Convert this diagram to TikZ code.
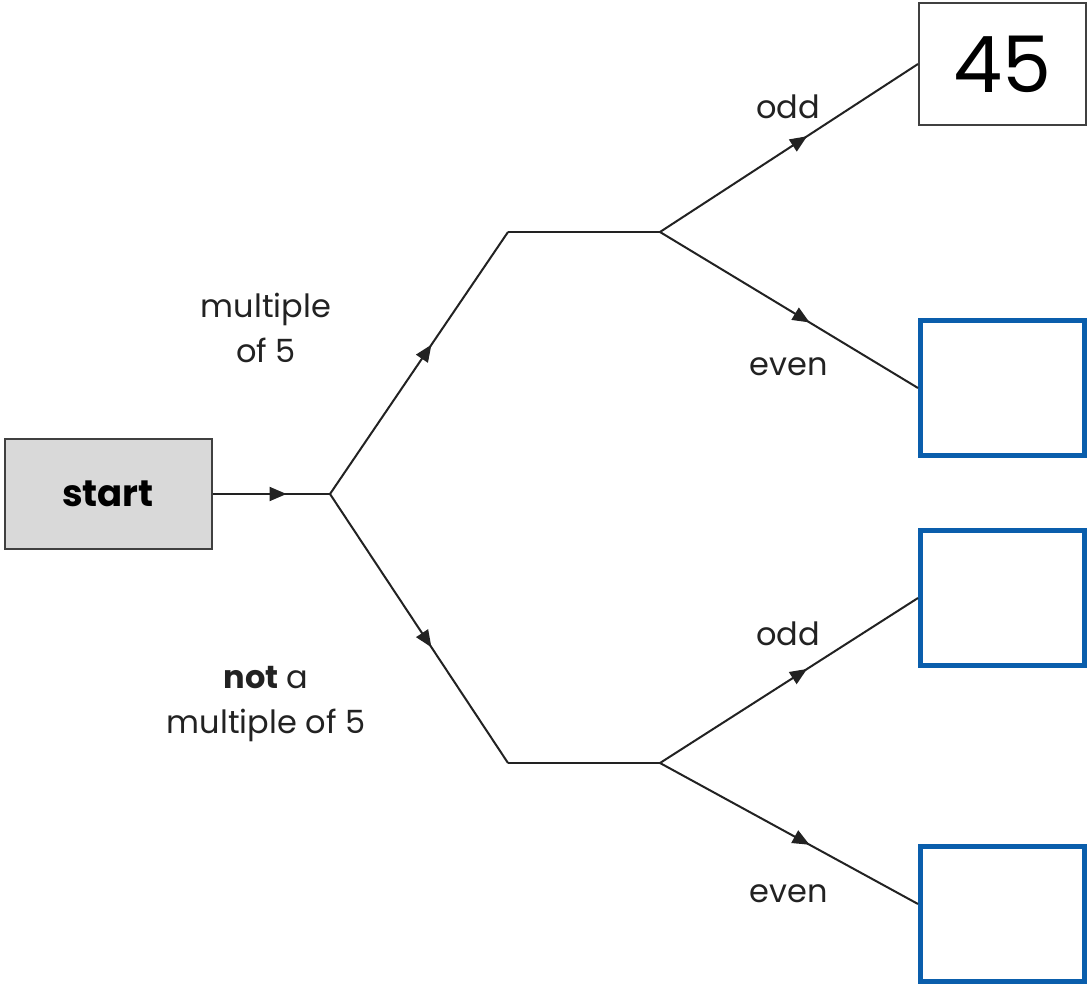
\documentclass[tikz,border=0pt]{standalone}
\usepackage{fontspec}
\setmainfont{Poppins}
\usetikzlibrary{arrows.meta,decorations.markings}

\definecolor{boxblue}{RGB}{10,94,172}
\definecolor{ink}{RGB}{34,34,34}

\tikzset{
  link/.style={draw=ink, line width=2pt},
  midarrow/.style={postaction={decorate},
    decoration={markings, mark=at position #1 with {\arrow{Triangle[length=17pt,width=14pt]}}}},
  startbox/.style={draw=black!75, line width=2pt, fill=black!15,
    minimum width=207pt, minimum height=110pt, inner sep=0pt},
  answer/.style={draw=black!75, line width=2pt, minimum width=167pt, minimum height=122pt, inner sep=0pt},
  blank/.style={draw=boxblue, line width=5pt, minimum width=164pt, minimum height=135pt},
  lbl/.style={inner sep=0pt, text=ink, align=center, font=\fontsize{32}{45}\selectfont}
}

\begin{document}
\begin{tikzpicture}[x=1pt,y=1pt,yscale=-1,xscale=1]
\useasboundingbox (0,0) rectangle (1088,987);

%Boxes
\node [startbox] (start) at (108,494) {\fontsize{37}{40}\selectfont\bfseries start};
\node [answer] (b45) at (1002.5,64) {\fontsize{78}{80}\selectfont 45};
\node [blank] (b2) at (1002.5,388) {};
\node [blank] (b3) at (1002.5,598) {};
\node [blank] (b4) at (1002.5,914) {};

%Forks
\coordinate (fork) at (330,494);
\coordinate (up) at (508,232);
\coordinate (upfork) at (660,232);
\coordinate (down) at (508,763);
\coordinate (downfork) at (660,763);

%Straight Lines
\draw [link, midarrow=0.63] (start.east) -- (fork);
\draw [link, midarrow=0.57] (fork) -- (up);
\draw [link] (up) -- (upfork);
\draw [link, midarrow=0.57] (fork) -- (down);
\draw [link] (down) -- (downfork);
\draw [link, midarrow=0.57] (upfork) -- (b45.west);
\draw [link, midarrow=0.58] (upfork) -- (b2.west);
\draw [link, midarrow=0.57] (downfork) -- (b3.west);
\draw [link, midarrow=0.58] (downfork) -- ([yshift=-10pt]b4.west);

% Text Node
\node [lbl] (multi) at (266,328) {multiple\\of 5};
\node [lbl] (notmulti) at (266,704) {{\bfseries not} a\\multiple of 5};
\node [lbl] (odd1) at (788,107) {odd};
\node [lbl] (even1) at (789,367) {even};
\node [lbl] (odd2) at (788,634) {odd};
\node [lbl] (even2) at (789,894) {even};

\end{tikzpicture}
\end{document}
